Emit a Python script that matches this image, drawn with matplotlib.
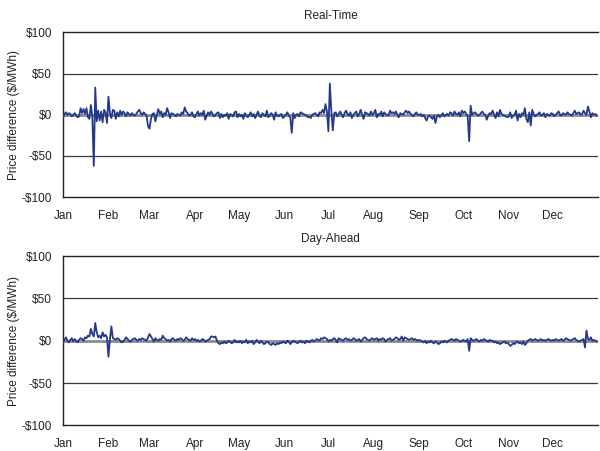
import numpy as np
import matplotlib.pyplot as plt

months = ["Jan", "Feb", "Mar", "Apr", "May", "Jun",
          "Jul", "Aug", "Sep", "Oct", "Nov", "Dec"]

# daily real-time price difference ($/MWh), one list per month
rt_jan = [-4, 1, 3, 0, 2, 1, -2, 0, 2, -1, -3, -2, 8, 2, 7, 1, 8, -3, -5, 12, -2, -62, 33, -8, 5, -7, 4, -9, 6, 3, -10]
rt_feb = [22, 2, -4, 6, 5, -5, 3, -2, 5, 0, 4, 2, -2, 3, 1, -1, 2, 0, -1, 1, 4, 6, 2, 0, 3, 1, -1, -14]
rt_mar = [-17, -5, 1, 2, -8, 0, 7, 1, 4, -3, 2, 0, 8, 3, -4, 2, 1, 0, -2, 1, 0, -1, 3, 1, 9, 4, 2, -1, 0, 3, -2]
rt_apr = [-3, 1, 4, -1, 2, 0, 5, -6, -1, 3, 0, 4, 1, -2, 0, 2, 3, -4, 1, -3, 0, -1, 2, -5, 1, 0, -2, 3, 4, -3]
rt_may = [1, -2, 0, -5, 2, -1, -3, 0, 3, -2, 1, -4, 0, 4, -1, -3, 2, 0, -2, 5, -3, -1, 2, 0, -6, 3, -1, -2, 0, 1, -4]
rt_jun = [-2, 0, 3, -1, -3, -22, 2, -4, 0, 1, -2, 3, 2, 1, 0, -1, -3, -2, -4, 0, 1, 2, 0, -2, 3, 2, 6, 2, 13, 4]
rt_jul = [-20, 38, 5, -19, 2, 3, -2, 1, 4, 0, -3, 2, 5, 1, -1, 3, -4, 0, 2, 4, -2, 1, 6, 0, -5, 3, 2, 1, -1, 4, 0]
rt_aug = [2, 6, -3, 1, 0, 4, -2, 3, 1, 0, -1, 5, 2, 3, 1, 4, 0, -3, 2, 1, 0, 3, 5, 2, 4, 1, 0, -2, 1, 3, 0]
rt_sep = [0, 1, -2, 0, -4, -7, -2, -1, -3, -5, -1, -10, -2, 0, -3, -1, 2, -2, 0, 1, -1, 3, 2, -1, 4, 1, 0, 3, -2, 5]
rt_oct = [2, 4, 1, -2, -32, 11, 0, 2, 3, 1, -1, 0, 2, 4, 1, 0, -6, -1, 2, 1, 5, 0, -4, 3, -2, 6, 1, 0, -1, -2, -3]
rt_nov = [-2, 3, -4, -1, 0, 5, -7, 1, -3, 2, 0, 8, -5, -9, 3, -13, 6, 1, -2, 0, 1, 3, -1, 0, 2, -3, 1, 0, -1, 2]
rt_dec = [1, -2, 0, 2, 4, 0, -1, 2, 1, 0, 3, 1, 0, -1, 2, 5, 1, 2, 3, 0, 1, 5, 2, 0, 10, 4, -3, 2, 0, 1, -1]

# daily day-ahead price difference ($/MWh)
da_jan = [-2, 1, 4, 0, -2, 1, 3, -1, 2, 0, -2, 1, 3, 2, 0, 4, 3, 6, 5, 14, 8, 5, 21, 10, 4, 6, 3, 10, 5, 7, 4]
da_feb = [-19, 2, 17, 3, 2, 1, 3, 2, 0, -2, -1, 1, 4, 2, 0, -1, 1, 2, 3, 1, 0, 2, 1, 3, 2, 1, 0, 4]
da_mar = [8, 5, 2, -1, 3, 1, 0, 2, 1, 6, 3, 2, 0, 1, -1, 2, 3, 1, 0, 2, 1, 3, 2, 0, 1, 4, 2, 1, 0, 3, 1]
da_apr = [2, 0, 1, -1, 0, 2, 1, -1, 0, 1, 2, 5, 5, 4, 5, 0, -3, -4, -2, -3, -1, -3, -2, 0, -1, -3, -2, 1, -2, -1]
da_may = [-2, 0, -3, -1, -2, 1, -3, -1, -2, 0, -4, -2, 1, -1, -3, 0, -2, -4, -3, -1, -2, -4, -5, -3, -4, -5, -3, -4, -2, -3, -1]
da_jun = [-2, -3, 0, -1, -4, -2, 0, -1, -2, -3, -1, 0, -2, -1, -3, 0, -1, -2, 0, 1, -1, 0, 2, 1, 0, 3, 2, 4, 3, 2]
da_jul = [-1, 1, 0, 2, 3, 1, -2, 3, 2, 1, 0, 2, 3, 1, 2, 0, 1, 3, 2, 0, 1, 2, -1, 1, 3, 4, 2, 1, 0, 2, 3]
da_aug = [1, 2, 3, 0, 2, 1, 3, 2, -1, 1, 2, 3, 0, 1, 2, 4, 3, 1, 2, 5, 0, 4, 3, 2, 1, 2, 3, 1, 2, 1, 0]
da_sep = [1, 0, -1, -2, 0, -3, -1, -2, 0, -2, -3, -1, -2, -4, -3, -1, -2, 0, -1, -2, 0, 1, 2, 1, 0, 2, 1, 0, -1, 0]
da_oct = [1, 0, -1, 2, -12, 3, 1, 0, 1, 2, 0, -1, 1, 0, 2, 1, 0, -1, 1, 0, 0, -2, -1, -3, -2, -4, -3, -2, -1, -3, -2]
da_nov = [-4, -6, -5, -3, -4, -2, -1, -3, -2, -4, -1, -5, -3, 0, 1, 2, 0, 1, 2, 1, 0, 1, 2, 0, 1, 0, 1, 2, 1, 0]
da_dec = [1, 0, 2, 1, 0, 1, 2, 0, 1, 3, 2, 1, 0, 1, 2, 3, 1, 0, -1, 0, 1, 2, -8, 12, 2, 1, 4, 0, 1, 0, -1]

real_time = rt_jan + rt_feb + rt_mar + rt_apr + rt_may + rt_jun + rt_jul + rt_aug + rt_sep + rt_oct + rt_nov + rt_dec
day_ahead = da_jan + da_feb + da_mar + da_apr + da_may + da_jun + da_jul + da_aug + da_sep + da_oct + da_nov + da_dec

month_len = [len(m) for m in [rt_jan, rt_feb, rt_mar, rt_apr, rt_may, rt_jun,
                              rt_jul, rt_aug, rt_sep, rt_oct, rt_nov, rt_dec]]
month_start = np.concatenate([[0], np.cumsum(month_len)[:-1]])
n_days = sum(month_len)

plt.rcParams['font.family'] = ['Liberation Sans Narrow', 'Liberation Sans', 'DejaVu Sans']

fig = plt.figure(figsize=(6, 4.51), dpi=100)
ax1 = fig.add_axes([0.105, 0.563, 0.892, 0.365])
ax2 = fig.add_axes([0.105, 0.057, 0.892, 0.375])

line_color = "#233a8c"
fs = 8.5

for ax, data, title in [(ax1, real_time, "Real-Time"), (ax2, day_ahead, "Day-Ahead")]:
    days = np.arange(len(data))
    ax.axhline(0, color="#8c8c8c", lw=2.0, zorder=1)
    for g in [50, -50]:
        ax.axhline(g, color="#3a3a3a", lw=0.9, zorder=1)
    ax.plot(days, data, color=line_color, lw=1.3, zorder=3)
    ax.set_xlim(0, n_days)
    ax.set_ylim(-100, 100)
    ax.set_yticks([100, 50, 0, -50, -100])
    ax.set_yticklabels(["$100", "$50", "$0", "-$50", "-$100"])
    ax.set_xticks(month_start)
    ax.set_xticklabels(months)
    ax.tick_params(axis="y", length=0, labelsize=fs, colors="#222222", pad=8)
    ax.tick_params(axis="x", length=0, labelsize=fs, colors="#222222", pad=9)
    ax.spines["right"].set_visible(False)
    for s in ["top", "left", "bottom"]:
        ax.spines[s].set_color("#222222")
        ax.spines[s].set_linewidth(1.0)
    ax.set_title(title, fontsize=fs, color="#222222", pad=10)
    ax.set_ylabel("Price difference ($/MWh)", fontsize=fs, color="#222222", labelpad=1)

fig.savefig("out.png", dpi=100)
